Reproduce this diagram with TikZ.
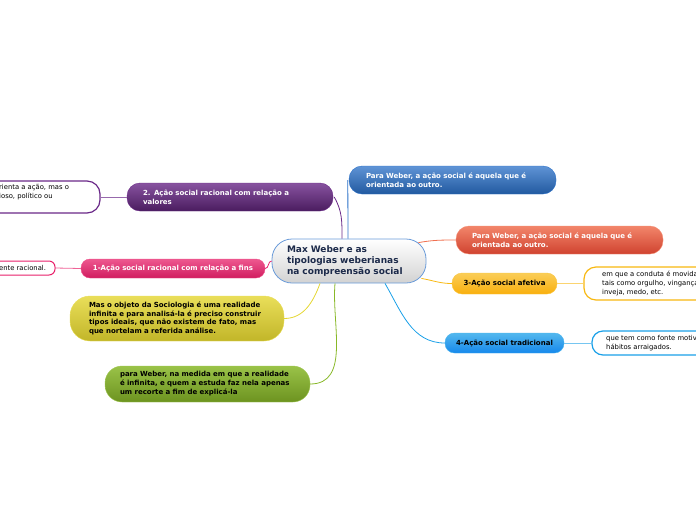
\documentclass[tikz,border=0pt]{standalone}
\usepackage{fontspec}
\setmainfont{DejaVu Sans}
\definecolor{navy}{HTML}{1C2A4A}
\definecolor{purpleline}{HTML}{6A2888}
\definecolor{pinkline}{HTML}{E8206A}
\definecolor{goldline}{HTML}{F8B810}
\definecolor{skyline}{HTML}{1AA0E8}
\definecolor{blueline}{HTML}{2A70C8}
\definecolor{orangeline}{HTML}{F07050}
\definecolor{yellowline}{HTML}{E4D630}
\definecolor{greenline}{HTML}{88B828}
\begin{document}
\begin{tikzpicture}[x=1pt,y=-1pt,
  pill/.style={rectangle,rounded corners=#1,inner ysep=0pt,align=left},
  topic/.style={pill=#1,font=\bfseries\fontsize{7}{9}\selectfont,text=white},
  darktopic/.style={pill=#1,font=\bfseries\fontsize{7}{9}\selectfont,text=black},
  note/.style={draw,line width=1.2pt,fill=white,rounded corners=#1,inner sep=0pt},
  notetext/.style={inner sep=0pt,align=left,font=\fontsize{6.8}{9}\selectfont,text=black},
  link/.style={line width=0.8pt}]
  % canvas
  \useasboundingbox (0,0) rectangle (696,520);
  \clip (0,0) rectangle (696,520);
  % central topic
  \node[pill=20pt,draw=blueline!70,line width=0.8pt,top color=white,bottom color=gray!35,
    minimum width=154pt,minimum height=44pt,text width=124pt,inner xsep=15pt,
    font=\bfseries\fontsize{9}{11.3}\selectfont,text=navy] (central) at (349,261)
    {Max Weber e as\\tipologias weberianas\\na compreensão social};
  % right side
  \node[topic=13pt,top color=blueline!75,bottom color=blueline!80!black,draw=blueline,
    minimum width=207pt,minimum height=28pt,text width=173pt,inner xsep=17pt] (blue) at (452.5,180)
    {Para Weber, a ação social é aquela que é\\orientada ao outro.};
  \node[topic=13pt,top color=orangeline!85,bottom color=orangeline!70!red!85!black,draw=orangeline!80,
    minimum width=207pt,minimum height=28pt,text width=175pt,inner xsep=16pt] (orange) at (559.5,240)
    {Para Weber, a ação social é aquela que é\\orientada ao outro.};
  \node[darktopic=10pt,top color=goldline!70,bottom color=goldline!85!orange,draw=goldline!80,
    minimum width=105pt,minimum height=21pt,align=center] (afetiva) at (504.5,283.5)
    {3-Ação social afetiva};
  \node[note=12pt,draw=goldline,minimum width=260pt,minimum height=33pt] (afetivanote) at (714,283.5) {};
  \node[notetext,anchor=west] (afetivatext) at (602,283.5)
    {em que a conduta é movida por sentimentos,\\tais como orgulho, vingança, loucura, paixão,\\inveja, medo, etc.};
  \node[darktopic=9.5pt,top color=skyline!75,bottom color=skyline!85!blue,draw=skyline!80,
    minimum width=119pt,minimum height=20pt,align=center] (tradicional) at (504.5,343)
    {4-Ação social tradicional};
  \node[note=11pt,draw=skyline,minimum width=260pt,minimum height=24pt] (tradicionalnote) at (722,343) {};
  \node[notetext,anchor=west] (tradicionaltext) at (606,343)
    {que tem como fonte motivadora os costumes ou\\hábitos arraigados.};
  % left side
  \node[topic=13pt,top color=purpleline!80,bottom color=purpleline!70!black,draw=purpleline,
    minimum width=206pt,minimum height=28pt,text width=174pt,inner xsep=16pt] (valores) at (230,197)
    {2. Ação social racional com relação a\\valores};
  \node[note=13pt,draw=purpleline,minimum width=160pt,minimum height=32pt] (valoresnote) at (20,197) {};
  \node[notetext,anchor=west] (valorestext) at (-1,192.5)
    {rienta a ação, mas o\\ioso, político ou};
  \node[topic=9pt,top color=pinkline!75,bottom color=pinkline!90!black,draw=pinkline!80,
    minimum width=184pt,minimum height=19pt,align=center] (fins) at (173,268.5)
    {1-Ação social racional com relação a fins};
  \node[note=6pt,draw=pinkline,line width=1pt,minimum width=95pt,minimum height=14pt] (finsnote) at (7.5,268) {};
  \node[notetext,anchor=west] (finstext) at (-1,268) {ente racional.};
  \node[darktopic=20pt,top color=yellowline!80,bottom color=yellowline!85!black,draw=yellowline!80,
    minimum width=214pt,minimum height=45pt,text width=176pt,inner xsep=19pt,
    font=\bfseries\fontsize{7}{8.7}\selectfont] (objeto) at (177,318.5)
    {Mas o objeto da Sociologia é uma realidade\\infinita e para analisá-la é preciso construir\\tipos ideais, que não existem de fato, mas\\que nortelam a referida análise.};
  \node[darktopic=17pt,top color=greenline!85,bottom color=greenline!80!black,draw=greenline!80,
    minimum width=205pt,minimum height=36pt,text width=175pt,inner xsep=15pt] (recorte) at (207.5,384)
    {para Weber, na medida em que a realidade\\é infinita, e quem a estuda faz nela apenas\\um recorte a fim de explicá-la};
  % connectors
  \draw[link,blueline] ([shift={(-1,0)}]central.north) -- ([shift={(-1,0)}]blue.west);
  \draw[link,purpleline] ([shift={(-7,0)}]central.north) to[out=90,in=-60] ([shift={(1,0)}]valores.east);
  \draw[link,orangeline] ([shift={(-8,4)}]central.north east) to[out=10,in=180] (orange.west);
  \draw[link,goldline] ([shift={(-5,-5)}]central.south east) to[out=-10,in=180] (afetiva.west);
  \draw[link,skyline] ([shift={(36,0)}]central.south) to[out=-60,in=180] (tradicional.west);
  \draw[link,pinkline] (central.west) to[out=180,in=0] (fins.east);
  \draw[link,yellowline] ([shift={(-29,0)}]central.south) to[out=-110,in=0] (objeto.east);
  \draw[link,greenline] ([shift={(-14,0)}]central.south) to[out=-95,in=0] (recorte.east);
  \draw[link,purpleline!70] (valores.west) -- (valoresnote.east);
  \draw[link,pinkline!70] (fins.west) -- (finsnote.east);
  \draw[link,goldline!60] (afetiva.east) -- (afetivanote.west);
  \draw[link,skyline!60] (tradicional.east) -- (tradicionalnote.west);
\end{tikzpicture}
\end{document}
